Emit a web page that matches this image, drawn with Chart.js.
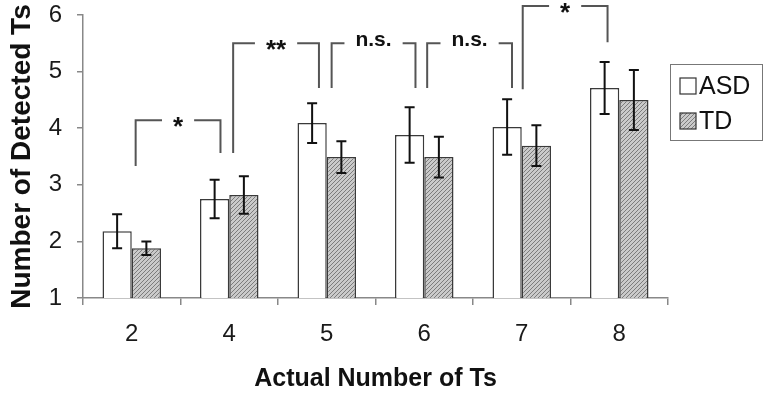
<!DOCTYPE html>
<html lang="en">

<head>
    <meta charset="UTF-8" />
    <meta name="viewport" content="width=device-width, initial-scale=1.0" />
    <title>Detected Ts</title>
    <style>
        * {
            margin: 0;
            padding: 0;
        }

        body {
            background: #ffffff;
        }

        .chartBox {
            width: 764px;
            height: 401px;
        }
    </style>
</head>

<body>
    <div class="chartBox">
        <canvas id="myChart"></canvas>
    </div>
    <script src="https://cdn.jsdelivr.net/npm/chart.js@4.4.0/dist/chart.umd.min.js"></script>
    <script>
        const labels = ["2", "4", "5", "6", "7", "8"];
        const asdMean = [2.18, 2.75, 4.09, 3.88, 4.02, 4.71];
        const asdErr = [0.30, 0.34, 0.35, 0.49, 0.49, 0.46];
        const tdMean = [1.88, 2.82, 3.49, 3.49, 3.69, 4.50];
        const tdErr = [0.12, 0.33, 0.28, 0.36, 0.36, 0.53];
        const yMin = 1;
        const yMax = 6;

        // significance brackets, x in category units, y in data units
        const bracketFrom = [0.04, 1.04, 2.05, 3.03, 4.01];
        const bracketTo = [0.91, 1.92, 2.91, 3.90, 4.88];
        const bracketTop = [4.14, 5.50, 5.50, 5.50, 6.16];
        const bracketLeftEnd = [3.33, 3.56, 4.71, 4.71, 4.69];
        const bracketRightEnd = [3.56, 4.71, 4.71, 4.71, 5.52];
        const bracketText = ["*", "**", "n.s.", "n.s.", "*"];

        const font = "'Liberation Sans', Arial, Helvetica, sans-serif";

        function makeHatch() {
            const c = document.createElement("canvas");
            c.width = 4;
            c.height = 4;
            const g = c.getContext("2d");
            g.fillStyle = "#cacaca";
            g.fillRect(0, 0, 4, 4);
            g.strokeStyle = "#7c7c7c";
            g.lineWidth = 1;
            g.beginPath();
            g.moveTo(0, 4); g.lineTo(4, 0);
            g.moveTo(-1, 1); g.lineTo(1, -1);
            g.moveTo(3, 5); g.lineTo(5, 3);
            g.stroke();
            return g.createPattern(c, "repeat");
        }
        const hatch = makeHatch();

        const extras = {
            id: "extras",
            afterDatasetsDraw(chart) {
                const ctx = chart.ctx;
                const y = chart.scales.y;
                const errs = [asdErr, tdErr];
                const means = [asdMean, tdMean];
                ctx.save();
                ctx.strokeStyle = "#111";
                ctx.lineWidth = 2;
                errs.forEach((err, d) => {
                    chart.getDatasetMeta(d).data.forEach((bar, i) => {
                        const hi = y.getPixelForValue(means[d][i] + err[i]);
                        const lo = y.getPixelForValue(means[d][i] - err[i]);
                        ctx.beginPath();
                        ctx.moveTo(bar.x, hi); ctx.lineTo(bar.x, lo);
                        ctx.moveTo(bar.x - 5, hi); ctx.lineTo(bar.x + 5, hi);
                        ctx.moveTo(bar.x - 5, lo); ctx.lineTo(bar.x + 5, lo);
                        ctx.stroke();
                    });
                });
                ctx.restore();
            },
            afterDraw(chart) {
                const ctx = chart.ctx;
                const x = chart.scales.x;
                const y = chart.scales.y;
                ctx.save();

                // brackets
                bracketText.forEach((txt, i) => {
                    const x1 = x.getPixelForValue(bracketFrom[i]);
                    const x2 = x.getPixelForValue(bracketTo[i]);
                    const yt = y.getPixelForValue(bracketTop[i]);
                    const yl = y.getPixelForValue(bracketLeftEnd[i]);
                    const yr = y.getPixelForValue(bracketRightEnd[i]);
                    const star = txt.indexOf("*") >= 0;
                    const size = star ? 26 : 21;
                    ctx.font = "bold " + size + "px " + font;
                    const w = ctx.measureText(txt).width;
                    const mid = (x1 + x2) / 2;
                    const gap = w / 2 + 11;
                    ctx.strokeStyle = "#555";
                    ctx.lineWidth = 2;
                    ctx.beginPath();
                    ctx.moveTo(x1, yl); ctx.lineTo(x1, yt); ctx.lineTo(mid - gap, yt);
                    ctx.moveTo(mid + gap, yt); ctx.lineTo(x2, yt); ctx.lineTo(x2, yr);
                    ctx.stroke();
                    ctx.fillStyle = "#111";
                    ctx.textAlign = "center";
                    ctx.textBaseline = "alphabetic";
                    ctx.fillText(txt, mid, yt + (star ? size * 0.58 : 3));
                });

                // legend
                const lx = chart.chartArea.right + 2;
                const ly = 64;
                ctx.strokeStyle = "#777";
                ctx.lineWidth = 1;
                ctx.strokeRect(lx + 0.5, ly + 0.5, 92, 76);
                ctx.lineWidth = 1.2;
                ctx.strokeStyle = "#333";
                ctx.fillStyle = "#fff";
                ctx.fillRect(lx + 10, ly + 14, 16, 16);
                ctx.strokeRect(lx + 10, ly + 14, 16, 16);
                ctx.fillStyle = hatch;
                ctx.fillRect(lx + 10, ly + 49, 16, 16);
                ctx.strokeRect(lx + 10, ly + 49, 16, 16);
                ctx.fillStyle = "#111";
                ctx.font = "25px " + font;
                ctx.textAlign = "left";
                ctx.textBaseline = "alphabetic";
                ctx.fillText("ASD", lx + 29, ly + 30);
                ctx.fillText("TD", lx + 29, ly + 65);
                ctx.restore();
            }
        };

        const data = {
            labels: labels,
            datasets: [
                {
                    label: "ASD",
                    data: asdMean,
                    backgroundColor: "#ffffff",
                    borderColor: "#3a3a3a",
                    borderWidth: 1.5,
                },
                {
                    label: "TD",
                    data: tdMean,
                    backgroundColor: hatch,
                    borderColor: "#3a3a3a",
                    borderWidth: 1.5,
                },
            ],
        };

        const options = {
            responsive: true,
            maintainAspectRatio: false,
            animation: false,
            layout: {
                padding: { top: 15, right: 96, left: 0, bottom: 0 }
            },
            datasets: {
                bar: {
                    categoryPercentage: 0.6,
                    barPercentage: 1.0,
                }
            },
            scales: {
                x: {
                    afterFit: (scale) => { scale.height = 103; },
                    grid: {
                        drawOnChartArea: false,
                        drawTicks: true,
                        tickLength: 7,
                        color: "#888",
                        lineWidth: 1.5,
                    },
                    border: { color: "#888", width: 1.5 },
                    ticks: {
                        padding: 15,
                        color: "#1a1a1a",
                        font: { family: font, size: 24 },
                    },
                    title: {
                        display: true,
                        text: "Actual Number of Ts",
                        color: "#111",
                        padding: { top: 0, bottom: 7 },
                        font: { family: font, size: 25, weight: "bold" },
                    },
                },
                y: {
                    min: yMin,
                    max: yMax,
                    afterFit: (scale) => {
                        scale.width = 83;
                        scale.paddingTop = 0;
                        scale.paddingBottom = 0;
                    },
                    grid: {
                        drawOnChartArea: false,
                        drawTicks: true,
                        tickLength: 6,
                        color: "#888",
                        lineWidth: 1.5,
                    },
                    border: { color: "#888", width: 1.5 },
                    ticks: {
                        stepSize: 1,
                        padding: 15,
                        color: "#1a1a1a",
                        font: { family: font, size: 24 },
                    },
                    title: {
                        display: true,
                        text: "Number of Detected Ts",
                        color: "#111",
                        padding: { top: 5, bottom: 0 },
                        font: { family: font, size: 28, weight: "bold" },
                    },
                },
            },
            plugins: {
                legend: { display: false },
                tooltip: { enabled: false },
            },
        };

        const config = {
            type: "bar",
            data: data,
            plugins: [extras],
            options: options
        };

        const ctx = document.getElementById("myChart").getContext("2d");
        const myChart = new Chart(ctx, config);
    </script>
</body>

</html>
